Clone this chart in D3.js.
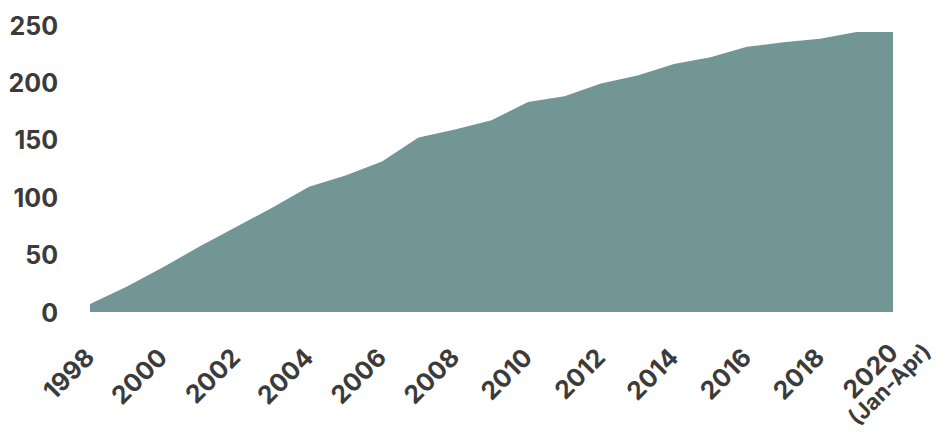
<!DOCTYPE html>
<html>
<head>
<meta charset="utf-8">
<script src="https://cdn.jsdelivr.net/npm/d3@7"></script>
<style>
  html, body { margin: 0; padding: 0; background: #ffffff; }
  svg { display: block; }
</style>
</head>
<body>
<svg id="chart" width="938" height="434"></svg>
<script>
const years = [1998,1999,2000,2001,2002,2003,2004,2005,2006,2007,2008,2009,2010,2011,2012,2013,2014,2015,2016,2017,2018,2019,2020];
const values = [7,22,39,57,74,91,109,119,131,152,159,167,183,188,199,206,216,222,231,235,238,244,244];
const yTicks = [0,50,100,150,200,250];
const xTickYears = [1998,2000,2002,2004,2006,2008,2010,2012,2014,2016,2018,2020];
const xTickLabels = ["1998","2000","2002","2004","2006","2008","2010","2012","2014","2016","2018","2020\n(Jan-Apr)"];

const svg = d3.select("#chart");
const fontFamily = "Inter, 'DejaVu Sans', sans-serif";
const textColor = "#3b3b3b";
const fill = "#729595";

const x = d3.scaleLinear().domain([1998, 2020]).range([90, 893]);
const y = d3.scaleLinear().domain([0, 250]).range([312, 25]);

const data = years.map((yr, i) => ({ year: yr, value: values[i] }));

const area = d3.area()
  .x(d => x(d.year))
  .y0(y(0))
  .y1(d => y(d.value));

svg.append("path")
  .datum(data)
  .attr("d", area)
  .attr("fill", fill);

// Y axis labels (no line, no ticks)
const yAxis = d3.axisLeft(y).tickValues(yTicks).tickSize(0).tickPadding(0);
const gy = svg.append("g").attr("transform", "translate(58,0)").call(yAxis);
gy.select(".domain").remove();
gy.selectAll("text")
  .attr("font-family", fontFamily)
  .attr("font-size", 25)
  .attr("font-weight", 700)
  .attr("fill", textColor)
  .attr("dy", "0.36em");

// X axis labels rotated
const gx = svg.append("g");
xTickYears.forEach((yr, i) => {
  const lines = xTickLabels[i].split("\n");
  const ax = x(yr) + 6, ay = 359;
  const g = gx.append("g").attr("transform", `translate(${ax},${ay}) rotate(-45)`);
  if (lines.length === 1) {
    g.append("text")
      .attr("text-anchor", "end")
      .attr("font-family", fontFamily)
      .attr("font-size", 25)
      .attr("font-weight", 700)
      .attr("fill", textColor)
      .text(lines[0]);
  } else {
    const t1 = g.append("text")
      .attr("text-anchor", "end")
      .attr("x", 4)
      .attr("y", -3)
      .attr("font-family", fontFamily)
      .attr("font-size", 25)
      .attr("font-weight", 700)
      .attr("fill", textColor)
      .text(lines[0]);
    const L1 = t1.node().getComputedTextLength();
    g.append("text")
      .attr("text-anchor", "middle")
      .attr("x", 8 - L1 / 2)
      .attr("y", 19)
      .attr("font-family", fontFamily)
      .attr("font-size", 22)
      .attr("font-weight", 700)
      .attr("fill", textColor)
      .text(lines[1]);
  }
});
</script>
</body>
</html>
